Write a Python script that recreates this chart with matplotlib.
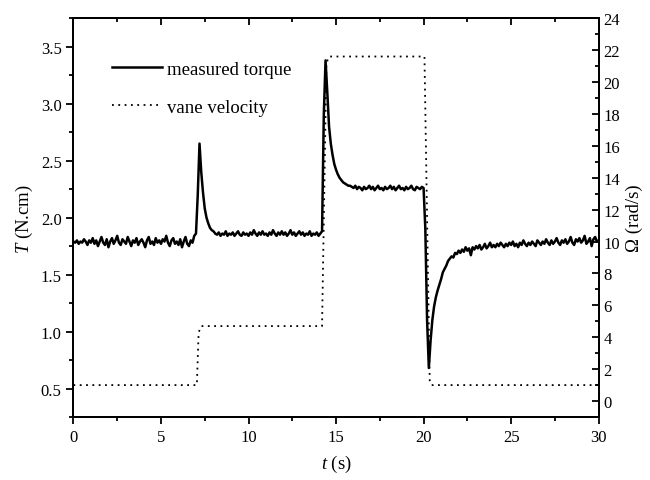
import numpy as np
import matplotlib
matplotlib.use("Agg")
import matplotlib.pyplot as plt
from matplotlib.ticker import MultipleLocator

plt.rcParams['font.family'] = ['Liberation Serif', 'DejaVu Serif']
plt.rcParams['mathtext.fontset'] = 'custom'
plt.rcParams['mathtext.it'] = 'Liberation Serif:italic'
plt.rcParams['mathtext.rm'] = 'Liberation Serif'

# torque samples, every 0.1 s from 0 to 30 s
t = np.linspace(0, 30, 301)
torque = [
    1.79, 1.78, 1.80, 1.77, 1.79, 1.78, 1.81, 1.79, 1.76, 1.80,
    1.78, 1.82, 1.77, 1.80, 1.75, 1.79, 1.83, 1.78, 1.76, 1.81,
    1.74, 1.79, 1.82, 1.77, 1.80, 1.84, 1.78, 1.76, 1.81, 1.79,
    1.77, 1.83, 1.79, 1.75, 1.80, 1.78, 1.82, 1.76, 1.79, 1.81,
    1.78, 1.74, 1.80, 1.83, 1.77, 1.79, 1.76, 1.82, 1.78, 1.80,
    1.77, 1.81, 1.79, 1.84, 1.78, 1.75, 1.80, 1.82, 1.77, 1.79,
    1.76, 1.81, 1.74, 1.79, 1.83, 1.77, 1.75, 1.80, 1.78, 1.84,
    1.86, 2.20, 2.65, 2.40, 2.22, 2.08, 2.00, 1.95, 1.91, 1.89,
    1.88, 1.86, 1.85, 1.87, 1.84, 1.86, 1.85, 1.88, 1.84, 1.86,
    1.85, 1.87, 1.84, 1.86, 1.88, 1.85, 1.84, 1.87, 1.85, 1.86,
    1.84, 1.87, 1.85, 1.89, 1.86, 1.84, 1.87, 1.85, 1.88, 1.85,
    1.86, 1.84, 1.87, 1.85, 1.89, 1.86, 1.84, 1.87, 1.85, 1.88,
    1.85, 1.87, 1.84, 1.86, 1.89, 1.85, 1.87, 1.84, 1.86, 1.88,
    1.85, 1.87, 1.84, 1.86, 1.85, 1.88, 1.84, 1.86, 1.85, 1.87,
    1.84, 1.86, 1.88, 2.90, 3.38, 3.10, 2.80, 2.65, 2.55, 2.47,
    2.42, 2.38, 2.35, 2.33, 2.31, 2.30, 2.29, 2.28, 2.28, 2.27,
    2.26, 2.28, 2.25, 2.27, 2.26, 2.24, 2.27, 2.25, 2.26, 2.28,
    2.25, 2.27, 2.24, 2.26, 2.28, 2.25, 2.26, 2.24, 2.27, 2.25,
    2.26, 2.28, 2.25, 2.27, 2.24, 2.26, 2.28, 2.25, 2.26, 2.24,
    2.27, 2.25, 2.26, 2.28, 2.25, 2.24, 2.27, 2.26, 2.25, 2.27,
    2.26, 1.90, 1.10, 0.68, 0.92, 1.10, 1.22, 1.30, 1.36, 1.41,
    1.46, 1.52, 1.55, 1.58, 1.62, 1.64, 1.66, 1.65, 1.69, 1.68,
    1.71, 1.69, 1.72, 1.70, 1.74, 1.71, 1.73, 1.67, 1.74, 1.72,
    1.75, 1.73, 1.76, 1.72, 1.74, 1.77, 1.73, 1.75, 1.78, 1.74,
    1.76, 1.74, 1.77, 1.75, 1.78, 1.76, 1.74, 1.77, 1.75, 1.78,
    1.76, 1.79, 1.75, 1.77, 1.74, 1.78, 1.76, 1.80, 1.77, 1.75,
    1.78, 1.76, 1.79, 1.77, 1.75, 1.80, 1.78, 1.76, 1.79, 1.77,
    1.81, 1.78, 1.76, 1.80, 1.77, 1.79, 1.82, 1.78, 1.76, 1.80,
    1.78, 1.81, 1.77, 1.79, 1.83, 1.78, 1.76, 1.81, 1.79, 1.82,
    1.78, 1.80, 1.84, 1.77, 1.79, 1.82, 1.75, 1.81, 1.83, 1.79,
    1.80,
]

# vane velocity steps
t_vane = [0, 7.05, 7.15, 7.3, 14.2, 14.45, 14.6, 20.05, 20.35, 20.45, 30]
omega = [1.0, 1.0, 4.3, 4.7, 4.7, 21.2, 21.6, 21.6, 1.3, 1.0, 1.0]

fig, ax1 = plt.subplots(figsize=(6.5, 4.81), dpi=100)
fig.subplots_adjust(left=0.113, right=0.921, top=0.960, bottom=0.131)
ax2 = ax1.twinx()

l1, = ax1.plot(t, torque, color='black', lw=1.8, label='measured torque')
l2, = ax2.plot(t_vane, omega, color='black', lw=1.3, ls=(0, (1, 2.5)),
               label='vane velocity')

ax1.set_xlim(0, 30)
ax1.set_ylim(0.25, 3.75)
ax2.set_ylim(-1, 24)

ax1.xaxis.set_major_locator(MultipleLocator(5))
ax1.xaxis.set_minor_locator(MultipleLocator(2.5))
ax1.yaxis.set_major_locator(MultipleLocator(0.5))
ax1.yaxis.set_minor_locator(MultipleLocator(0.25))
ax2.yaxis.set_major_locator(MultipleLocator(2))
ax2.yaxis.set_minor_locator(MultipleLocator(1))

ax1.tick_params(axis='both', which='both', labelsize=12, width=1.3)
ax1.tick_params(axis='x', which='both', direction='out', top=False)
ax1.tick_params(axis='y', which='both', direction='out')
ax1.tick_params(which='major', length=5)
ax1.tick_params(which='minor', length=3)
ax2.tick_params(axis='y', which='both', direction='in', labelsize=12, width=1.3)
ax2.tick_params(which='major', length=5)
ax2.tick_params(which='minor', length=3)
ax1.set_yticklabels(['%.1f' % v for v in ax1.get_yticks()])

# top ticks point inward (drawn by the twin axes, which shares x)
ax2.xaxis.set_visible(True)
ax2.tick_params(axis='x', which='both', direction='in', top=True, bottom=False,
                labeltop=False, labelbottom=False, width=1.3)

for sp in ax1.spines.values():
    sp.set_linewidth(1.4)
for sp in ax2.spines.values():
    sp.set_linewidth(1.4)

ax1.set_xlabel(r'$t$ (s)', fontsize=13.5, labelpad=6)
ax1.set_ylabel(r'$T$ (N.cm)', fontsize=13.5)
ax2.set_ylabel('Ω (rad/s)', fontsize=13.5, labelpad=4)

ax2.legend(handles=[l1, l2], loc='upper left', bbox_to_anchor=(0.073, 0.893),
           frameon=False, fontsize=13.5, handlelength=2.67, handletextpad=0.3,
           labelspacing=1.1, borderpad=0, borderaxespad=0)

fig.savefig('out.png', dpi=100)
